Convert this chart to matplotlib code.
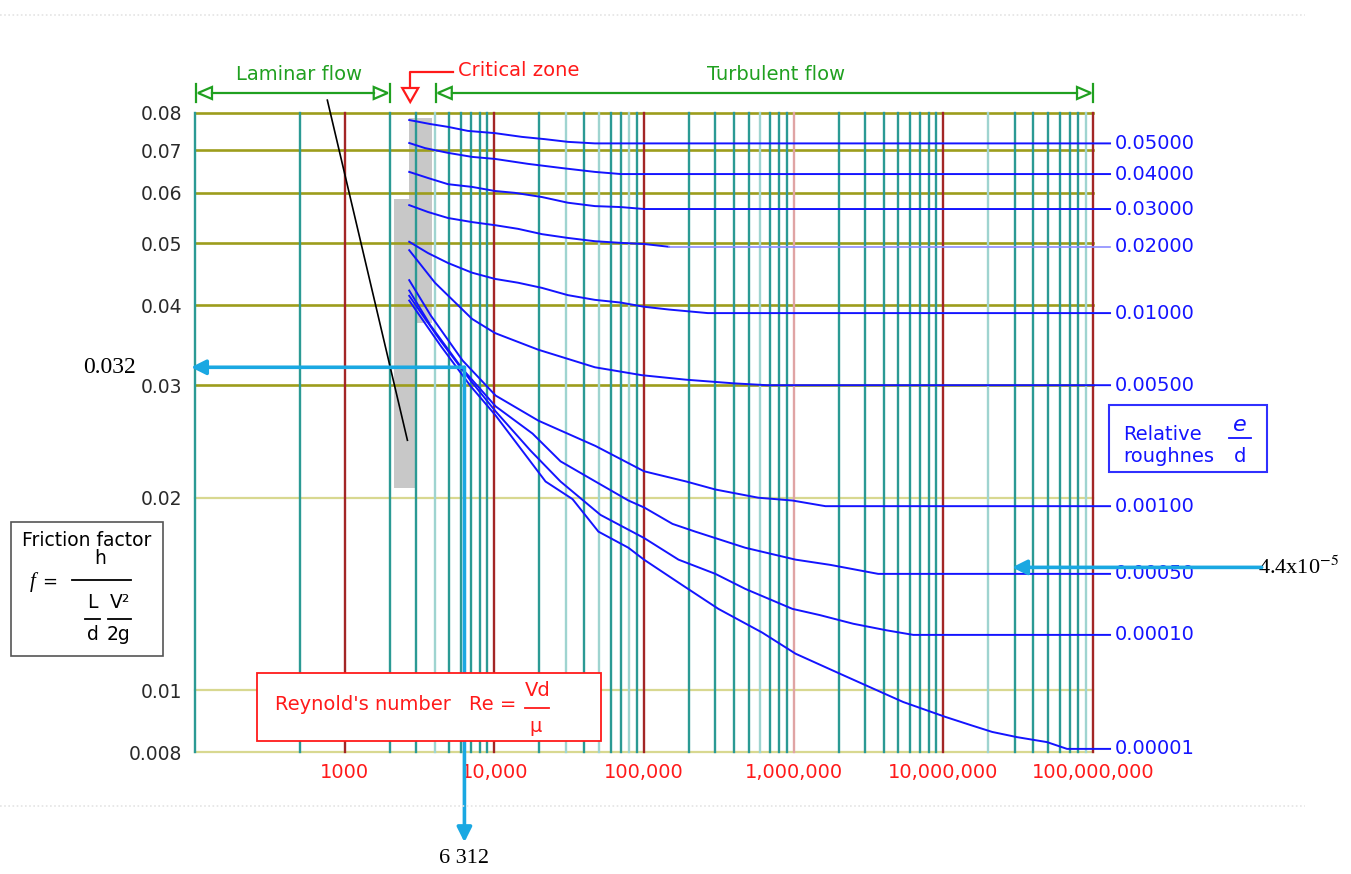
import matplotlib
matplotlib.use('Agg')
import matplotlib.pyplot as plt
from matplotlib.patches import Rectangle, Polygon
from matplotlib.transforms import Affine2D, blended_transform_factory

plt.rcParams['font.family'] = ['DejaVu Sans']
plt.rcParams['mathtext.fontset'] = 'stix'

W, H = 1351, 874

# --- Moody diagram data (Reynolds number, friction factor) ---
roughness_labels = ['0.05000', '0.04000', '0.03000', '0.02000', '0.01000',
                    '0.00500', '0.00100', '0.00050', '0.00010', '0.00001']

re_005 = [2700, 3710, 4900, 6660, 10100, 15300, 21800, 31000, 47000, 1.3e8]
f_005 = [0.0780, 0.0769, 0.0761, 0.0750, 0.0744, 0.0734, 0.0728, 0.0721, 0.0717, 0.0717]

re_004 = [2700, 3440, 4900, 7090, 10100, 16800, 28300, 47000, 70100, 1.3e8]
f_004 = [0.0718, 0.0705, 0.0693, 0.0683, 0.0678, 0.0666, 0.0656, 0.0647, 0.0642, 0.0642]

re_003 = [2700, 3600, 4900, 7090, 10100, 13700, 20800, 31000, 47000, 70100, 100000, 1.3e8]
f_003 = [0.0647, 0.0633, 0.0619, 0.0613, 0.0604, 0.0600, 0.0591, 0.0579, 0.0572, 0.0570, 0.0566, 0.0566]

re_002 = [2700, 3600, 4900, 7090, 10100, 14400, 20800, 31000, 47000, 70100, 100000, 147000, 1.3e8]
f_002 = [0.0574, 0.0560, 0.0548, 0.0540, 0.0534, 0.0527, 0.0517, 0.0510, 0.0504, 0.0501, 0.0499, 0.0494, 0.0494]

re_001 = [2700, 3600, 4900, 7090, 10100, 14400, 20800, 31000, 47000, 70100, 100000, 147000, 267000, 1.3e8]
f_001 = [0.0503, 0.0483, 0.0466, 0.0450, 0.0440, 0.0434, 0.0426, 0.0415, 0.0408, 0.0404, 0.0398, 0.0394, 0.0389, 0.0389]

re_0005 = [2700, 4010, 7090, 10100, 19600, 47000, 96800, 191000, 399000, 662000, 1.3e8]
f_0005 = [0.0488, 0.0434, 0.0381, 0.0362, 0.0341, 0.0320, 0.0311, 0.0306, 0.0302, 0.0300, 0.0300]

re_0001 = [2700, 3750, 6130, 10200, 19700, 47400, 100000, 192000, 300000, 580000, 980000, 1.63e6, 1.3e8]
f_0001 = [0.0438, 0.0386, 0.0328, 0.0289, 0.0264, 0.0241, 0.0220, 0.0212, 0.0206, 0.0200, 0.0198, 0.0194, 0.0194]

re_00005 = [2700, 3750, 6130, 10200, 18000, 27700, 47400, 78700, 100600, 155000, 220000, 475000,
            1.03e6, 1.76e6, 3.67e6, 1.3e8]
f_00005 = [0.0422, 0.0372, 0.0318, 0.0278, 0.0252, 0.0228, 0.0212, 0.0198, 0.0193, 0.0182, 0.0177, 0.0167,
           0.0160, 0.0157, 0.0152, 0.0152]

re_00001 = [2700, 4370, 6940, 10200, 17450, 27700, 51200, 100000, 170000, 300000, 475000, 980000,
            1.5e6, 2.5e6, 4.2e6, 6.3e6, 1.3e8]
f_00001 = [0.0414, 0.0352, 0.0305, 0.0273, 0.0237, 0.0212, 0.0188, 0.0173, 0.0160, 0.0152, 0.0144, 0.0134,
           0.0131, 0.0127, 0.0124, 0.0122, 0.0122]

re_000001 = [2700, 4370, 6940, 10200, 22000, 33300, 49600, 78700, 100000, 180000, 314000, 617000, 1.03e6,
             2.05e6, 3.25e6, 5.39e6, 1.03e7, 1.51e7, 2.12e7, 3.11e7, 4.93e7, 6.71e7, 1.3e8]
f_000001 = [0.0407, 0.0346, 0.0299, 0.0269, 0.0212, 0.0199, 0.0177, 0.0167, 0.0160, 0.0146, 0.0134, 0.0123, 0.0114,
            0.0106, 0.0101, 0.00958, 0.00908, 0.00882, 0.00860, 0.00844, 0.00829, 0.00809, 0.00809]

curves_re = [re_005, re_004, re_003, re_002, re_001, re_0005, re_0001, re_00005, re_00001, re_000001]
curves_f = [f_005, f_004, f_003, f_002, f_001, f_0005, f_0001, f_00005, f_00001, f_000001]

# laminar line end points
laminar_re = [766, 2626]
laminar_f = [0.0838, 0.0246]

# critical zone shading (Re range, f range)
crit_upper_re, crit_upper_f = (2704, 3849), (0.0376, 0.0786)
crit_lower_re, crit_lower_f = (2124, 2933), (0.0207, 0.0586)

# grid
teal_re = [100, 500] + [k * 10 ** p for p in (3, 4, 5, 6, 7) for k in range(2, 10)]
light_teal_re = [4000, 30000, 50000, 80000, 600000, 2e7, 9e7]
red_re = [1e3, 1e4, 1e5, 1e7, 1e8]
light_red_re = [1e6]
olive_f = [0.08, 0.07, 0.06, 0.05, 0.04, 0.03]
light_olive_f = [0.02, 0.01, 0.008]

y_ticks = [0.08, 0.07, 0.06, 0.05, 0.04, 0.03, 0.02, 0.01, 0.008]
y_ticklabels = ['0.08', '0.07', '0.06', '0.05', '0.04', '0.03', '0.02', '0.01', '0.008']
x_ticks = [1e3, 1e4, 1e5, 1e6, 1e7, 1e8]
x_ticklabels = ['1000', '10,000', '100,000', '1,000,000', '10,000,000', '100,000,000']

# worked example
example_re = 6312
example_f = 0.032
example_rr_label = '4.4x10$^{-5}$'
example_rr_f = 0.01556

# flow regimes (Re spans)
laminar_span = (100, 2000)
turbulent_span = (4000, 1e8)
critical_re = 2700

TEAL = '#2b9a94'
LTEAL = '#9fd4d0'
DRED = '#a32626'
LRED = '#e0a4a4'
OLIVE = '#9d9d1c'
LOLIVE = '#d8d890'
BLUE = '#1414ff'
LBLUE = '#8c8cff'
GREEN = '#20a020'
RED = '#ff1a1a'
CYAN = '#1aa8e2'

fig = plt.figure(figsize=(W / 100, H / 100), dpi=100)
ax = fig.add_axes([195 / W, 1 - 752 / H, 898 / W, 639 / H])
ax.set_xscale('log')
ax.set_yscale('log')
ax.set_xlim(100, 1e8)
ax.set_ylim(0.008, 0.08)
for s in ax.spines.values():
    s.set_visible(False)
ax.minorticks_off()
ax.set_yticks(y_ticks)
ax.set_yticklabels(y_ticklabels, fontsize=13.5, color='#2a2a2a')
ax.set_xticks(x_ticks)
ax.set_xticklabels(x_ticklabels, fontsize=14, color=RED)
ax.tick_params(axis='both', length=0)
ax.tick_params(axis='y', pad=9)
ax.tick_params(axis='x', pad=8)

# pixel transform (top-left origin)
pix = Affine2D().scale(1, -1).translate(0, H)

# faint scan rules above and below the chart
for yy in (15, 806):
    fig.add_artist(plt.Line2D([0, 1305], [yy, yy], color='#e4e4e4', lw=1.2, ls=(0, (1, 1.5)), transform=pix))

# shaded critical zone
ax.add_patch(Rectangle((crit_lower_re[0], crit_lower_f[0]), crit_lower_re[1] - crit_lower_re[0],
                       crit_lower_f[1] - crit_lower_f[0], facecolor='#c8c8c8', edgecolor='none', zorder=0.5))
ax.add_patch(Rectangle((crit_upper_re[0], crit_upper_f[0]), crit_upper_re[1] - crit_upper_re[0],
                       crit_upper_f[1] - crit_upper_f[0], facecolor='#c8c8c8', edgecolor='none', zorder=0.5))

# grid lines
for f in olive_f:
    ax.axhline(f, color=OLIVE, lw=1.9, zorder=1, clip_on=False)
for f in light_olive_f:
    ax.axhline(f, color=LOLIVE, lw=1.6, zorder=1, clip_on=False)
for r in teal_re:
    c = LTEAL if r in light_teal_re else TEAL
    ax.axvline(r, color=c, lw=1.7, zorder=1.2, clip_on=False)
for r in red_re:
    ax.axvline(r, color=DRED, lw=1.7, zorder=1.2, clip_on=False)
for r in light_red_re:
    ax.axvline(r, color=LRED, lw=1.7, zorder=1.2, clip_on=False)

# friction factor curves (the 0.02 curve has a faint flat tail)
for lab, re, f in zip(roughness_labels, curves_re, curves_f):
    if lab == '0.02000':
        ax.plot(re[:-1], f[:-1], color=BLUE, lw=1.4, zorder=3, solid_joinstyle='round')
        ax.plot(re[-2:], f[-2:], color=LBLUE, lw=1.2, zorder=3, clip_on=False)
    else:
        ax.plot(re, f, color=BLUE, lw=1.4, zorder=3, clip_on=False, solid_joinstyle='round')

# laminar line
ax.plot(laminar_re, laminar_f, color='black', lw=1.2, zorder=3, clip_on=False)

# relative roughness labels
lab_tr = blended_transform_factory(ax.transAxes, ax.transData)
for lab, f in zip(roughness_labels, curves_f):
    ax.text(1.0245, f[-1], lab, transform=lab_tr, color=BLUE, fontsize=14,
            va='center', ha='left')

# flow regime markers on top
def to_px(re, f=0.08):
    X, Y = ax.transData.transform((re, f))
    return X, H - Y

def dim_end(x, y, direction, color):
    # end bar plus hollow triangle pointing towards the bar
    fig.add_artist(plt.Line2D([x, x], [y - 9, y + 9], color=color, lw=1.6, transform=pix))
    tip = x - direction * 2
    base = tip - direction * 14
    fig.add_artist(Polygon([[tip, y], [base, y - 6], [base, y + 6]], closed=True, facecolor='white',
                           edgecolor=color, lw=1.6, transform=pix))
    return base

ybar = 93
for span in (laminar_span, turbulent_span):
    x0 = to_px(span[0])[0] + 1
    x1 = to_px(span[1])[0]
    b0 = dim_end(x0, ybar, -1, GREEN)
    b1 = dim_end(x1, ybar, 1, GREEN)
    fig.add_artist(plt.Line2D([b0, b1], [ybar, ybar], color=GREEN, lw=1.6, transform=pix))

fig.text(299, 75, 'Laminar flow', color=GREEN, fontsize=14, ha='center', va='center', transform=pix)
fig.text(776, 75, 'Turbulent flow', color=GREEN, fontsize=14, ha='center', va='center', transform=pix)

xc = to_px(critical_re)[0] + 1
fig.add_artist(plt.Line2D([453, xc, xc], [72, 72, 87], color=RED, lw=1.6, transform=pix))
fig.add_artist(Polygon([[xc - 8, 88], [xc + 8, 88], [xc, 102]], closed=True, facecolor='white',
                       edgecolor=RED, lw=1.6, transform=pix))
fig.text(458, 70, 'Critical zone', color=RED, fontsize=14, ha='left', va='center', transform=pix)

# friction factor box
fig.add_artist(Rectangle((11, 522), 152, 134, facecolor='white', edgecolor='#555555', lw=1.2, transform=pix))
fig.text(87, 540, 'Friction factor', fontsize=13.5, ha='center', va='center', transform=pix)
fig.text(30, 582, 'f', fontsize=15, style='italic', family='Liberation Serif', ha='left', va='center',
         transform=pix)
fig.text(42, 582, '=', fontsize=13, ha='left', va='center', transform=pix)
fig.text(100, 558, 'h', fontsize=13.5, ha='center', va='center', transform=pix)
fig.add_artist(plt.Line2D([72, 131], [580, 580], color='black', lw=1.3, transform=pix))
fig.text(92, 603, 'L', fontsize=13.5, ha='center', va='center', transform=pix)
fig.add_artist(plt.Line2D([85, 100], [619, 619], color='black', lw=1.3, transform=pix))
fig.text(93, 635, 'd', fontsize=13.5, ha='center', va='center', transform=pix)
fig.text(120, 603, 'V²', fontsize=13.5, ha='center', va='center', transform=pix)
fig.add_artist(plt.Line2D([108, 131], [619, 619], color='black', lw=1.3, transform=pix))
fig.text(119, 635, '2g', fontsize=13.5, ha='center', va='center', transform=pix)

# Reynolds number box
fig.add_artist(Rectangle((257, 673), 344, 68, facecolor='white', edgecolor=RED, lw=1.3, transform=pix,
                         zorder=4))
fig.text(275, 705, "Reynold's number", color=RED, fontsize=14, ha='left', va='center', transform=pix,
         zorder=5)
fig.text(469, 705, 'Re =', color=RED, fontsize=14, ha='left', va='center', transform=pix, zorder=5)
fig.text(538, 690, 'Vd', color=RED, fontsize=14, ha='center', va='center', transform=pix, zorder=5)
fig.add_artist(plt.Line2D([525, 549], [708, 708], color=RED, lw=1.3, transform=pix, zorder=5))
fig.text(536, 726, 'μ', color=RED, fontsize=14, ha='center', va='center', transform=pix, zorder=5)

# relative roughness box
fig.add_artist(Rectangle((1109, 405), 158, 67, facecolor='white', edgecolor='#3030ff', lw=1.5, transform=pix))
fig.text(1123, 435, 'Relative', color=BLUE, fontsize=14, ha='left', va='center', transform=pix)
fig.text(1123, 456, 'roughnes', color=BLUE, fontsize=14, ha='left', va='center', transform=pix)
fig.text(1240, 425, 'e', color=BLUE, fontsize=16, style='italic', ha='center', va='center', transform=pix)
fig.add_artist(plt.Line2D([1229, 1251], [438, 438], color=BLUE, lw=1.3, transform=pix))
fig.text(1240, 456, 'd', color=BLUE, fontsize=14, ha='center', va='center', transform=pix)

# worked example arrows
arrow_kw = dict(arrowstyle='-|>', color=CYAN, lw=2.6, mutation_scale=22, shrinkA=0, shrinkB=0)
ax.annotate('', xy=(94, example_f), xytext=(example_re, example_f), arrowprops=arrow_kw,
            annotation_clip=False, zorder=6)
ax.annotate('', xy=(example_re, 0.00578), xytext=(example_re, example_f), arrowprops=arrow_kw,
            annotation_clip=False, zorder=6)
ax.annotate('', xy=(2.88e7, example_rr_f), xytext=(1.34e9, example_rr_f), arrowprops=arrow_kw,
            annotation_clip=False, zorder=6)
ax.annotate(f'{example_f}', xy=(94, example_f), xytext=(-40, 0), textcoords='offset points',
            ha='right', va='center', fontsize=17, family='Liberation Serif', annotation_clip=False)
ax.annotate('6 312', xy=(example_re, 0.00578), xytext=(0, -5), textcoords='offset points',
            ha='center', va='top', fontsize=16, family='Liberation Serif', annotation_clip=False)
ax.annotate(example_rr_label, xy=(1.34e9, example_rr_f), xytext=(-3, 0), textcoords='offset points',
            ha='left', va='center', fontsize=16, family='Liberation Serif', annotation_clip=False)

fig.savefig('out.png', dpi=100)
